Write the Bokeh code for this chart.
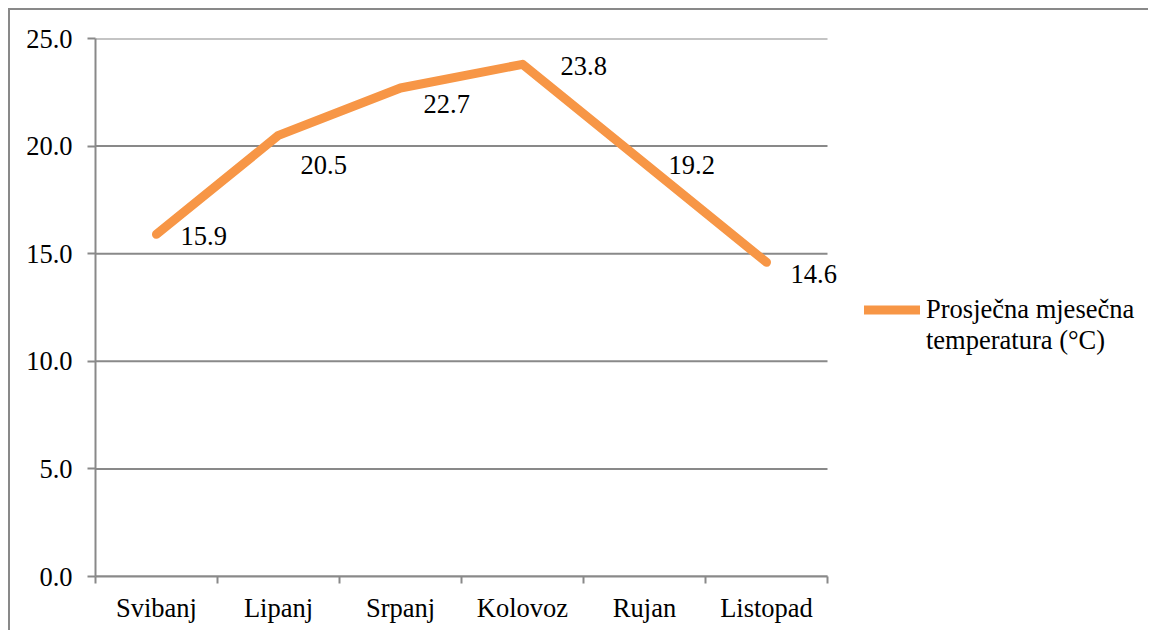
from bokeh.plotting import figure
from bokeh.models import (ColumnDataSource, LabelSet, Legend, LegendItem,
                          FixedTicker, NumeralTickFormatter, Range1d)
from bokeh.core.properties import value
from bokeh.embed import file_html
from bokeh.resources import INLINE

months = ["Svibanj", "Lipanj", "Srpanj", "Kolovoz", "Rujan", "Listopad"]
temps = [15.9, 20.5, 22.7, 23.8, 19.2, 14.6]
series_name_lines = ["Prosječna mjesečna", "temperatura (°C)"]
y_ticks = [0, 5, 10, 15, 20, 25]
# label placement offsets (px), style only
label_dx = [24, 22, 23, 38, 24, 24]
label_dy = [2, 30, 16, 2, 2, 12]

FONT = "Liberation Serif"
FS = "26.5px"
GRAY = "#898989"
ORANGE = "#F79646"

# layout (px)
W, H = 1140, 622
LEFT, TOP, BOTTOM = 85, 28, 56
PLOT_W = 732  # width of the category area
frame_w = W - LEFT
x_end = len(months) * frame_w / PLOT_W

xs = [i + 0.5 for i in range(len(months))]
src = ColumnDataSource(dict(
    x=xs, y=temps, txt=[f"{t:.1f}" for t in temps],
    dx=label_dx, dy=[-d for d in label_dy]))

p = figure(width=W, height=H, output_backend="svg", toolbar_location=None,
           x_range=Range1d(0, x_end), y_range=Range1d(0, 25),
           min_border_left=LEFT, min_border_right=0, min_border_top=TOP,
           min_border_bottom=BOTTOM)
p.styles = {"margin-left": "8px", "margin-top": "8px",
            "border-top": f"2px solid {GRAY}", "border-left": f"2px solid {GRAY}"}
p.outline_line_color = None
p.background_fill_color = "white"
p.border_fill_color = "white"

# horizontal gridlines over the category area only
n = len(months)
p.segment(x0=[0] * len(y_ticks), x1=[n] * len(y_ticks), y0=y_ticks, y1=y_ticks,
          line_color=GRAY, line_width=2)

r = p.line("x", "y", source=src, line_color=ORANGE, line_width=9,
           line_cap="round", line_join="round")
# invisible renderer carrying the second line of the legend label
r_blank = p.line(x=[], y=[], line_alpha=0)

labels = LabelSet(x="x", y="y", text="txt", source=src, x_offset="dx", y_offset="dy",
                  text_align="left", text_baseline="middle",
                  text_font=value(FONT), text_font_size=FS, text_color="black")
p.add_layout(labels)

# x axis: labels at category centres, ticks at boundaries
xa = p.xaxis[0]
xa.bounds = (0, n)
xa.ticker = FixedTicker(ticks=xs, minor_ticks=list(range(n + 1)))
xa.major_label_overrides = {x: m for x, m in zip(xs, months)}
xa.major_tick_out = 0
xa.major_tick_in = 0
xa.minor_tick_out = 7
xa.minor_tick_in = 0
xa.minor_tick_line_color = GRAY
xa.minor_tick_line_width = 2
xa.axis_line_color = GRAY
xa.axis_line_width = 2
xa.major_label_text_font = FONT
xa.major_label_text_font_size = FS
xa.major_label_text_color = "black"
xa.major_label_standoff = 9

ya = p.yaxis[0]
ya.ticker = FixedTicker(ticks=y_ticks)
ya.formatter = NumeralTickFormatter(format="0.0")
ya.major_tick_out = 8
ya.major_tick_in = 0
ya.minor_tick_line_color = None
ya.major_tick_line_color = GRAY
ya.major_tick_line_width = 2
ya.axis_line_color = GRAY
ya.axis_line_width = 2
ya.major_label_text_font = FONT
ya.major_label_text_font_size = FS
ya.major_label_text_color = "black"
ya.major_label_standoff = 15

p.xgrid.grid_line_color = None
p.ygrid.grid_line_color = None

legend = Legend(items=[LegendItem(label=series_name_lines[0], renderers=[r]),
                       LegendItem(label=series_name_lines[1], renderers=[r_blank])],
                location=(769, 220), padding=0, margin=0, spacing=0,
                border_line_color=None, background_fill_alpha=0,
                glyph_width=56, glyph_height=31, label_standoff=6,
                label_height=31,
                label_text_font=FONT, label_text_font_size=FS,
                label_text_color="black")
p.add_layout(legend, "center")

open("out.html", "w").write(file_html(p, INLINE))
